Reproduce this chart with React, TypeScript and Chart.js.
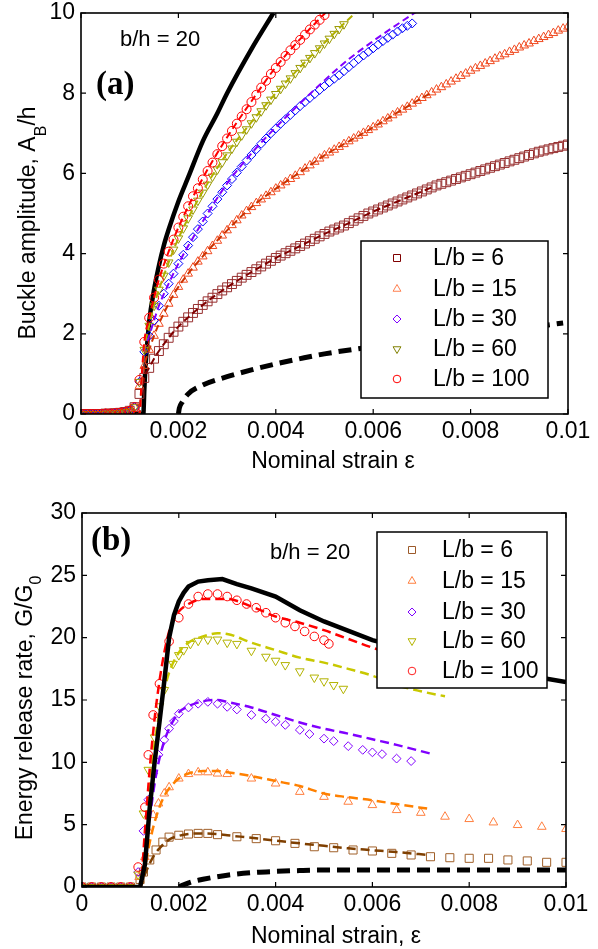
import React, { useEffect, useRef } from 'react';
import { Chart, registerables } from 'chart.js';
Chart.register(...registerables);

const FONT = '"Liberation Sans", Arial, Helvetica, sans-serif';
const SERIF = '"Liberation Serif", "Times New Roman", serif';

// ---------- ticks ----------
const xTickValues = [0, 0.002, 0.004, 0.006, 0.008, 0.01];
const xTickLabels = ['0', '0.002', '0.004', '0.006', '0.008', '0.01'];
const yTickValuesA = [0, 2, 4, 6, 8, 10];
const yTickLabelsA = ['0', '2', '4', '6', '8', '10'];
const yTickValuesB = [0, 5, 10, 15, 20, 25, 30];
const yTickLabelsB = ['0', '5', '10', '15', '20', '25', '30'];
const legendLabels = ['L/b = 6', 'L/b = 15', 'L/b = 30', 'L/b = 60', 'L/b = 100'];

// ---------- panel (a): buckle amplitude ----------
const strainA = [
  0, 0.0001, 0.0002, 0.0003, 0.0004, 0.0005, 0.0006, 0.0007, 0.0008, 0.0009,
  0.001, 0.0011, 0.0012, 0.0013, 0.0014, 0.0015, 0.0016, 0.0017, 0.0018, 0.0019,
  0.002, 0.0021, 0.0022, 0.0023, 0.0024, 0.0025, 0.0026, 0.0027, 0.0028, 0.0029,
  0.003, 0.0031, 0.0032, 0.0033, 0.0034, 0.0035, 0.0036, 0.0037, 0.0038, 0.0039,
  0.004, 0.0041, 0.0042, 0.0043, 0.0044, 0.0045, 0.0046, 0.0047, 0.0048, 0.0049,
  0.005, 0.0051, 0.0052, 0.0053, 0.0054, 0.0055, 0.0056, 0.0057, 0.0058, 0.0059,
  0.006, 0.0061, 0.0062, 0.0063, 0.0064, 0.0065, 0.0066, 0.0067, 0.0068, 0.0069,
  0.007, 0.0071, 0.0072, 0.0073, 0.0074, 0.0075, 0.0076, 0.0077, 0.0078, 0.0079,
  0.008, 0.0081, 0.0082, 0.0083, 0.0084, 0.0085, 0.0086, 0.0087, 0.0088, 0.0089,
  0.009, 0.0091, 0.0092, 0.0093, 0.0094, 0.0095, 0.0096, 0.0097, 0.0098, 0.0099, 0.01,
];
const ampLb6 = [
  0, 0, 0, 0, 0, 0.01, 0.01, 0.02, 0.03, 0.05, 0.08, 0.17,
  0.5, 0.9, 1.15, 1.38, 1.57, 1.74, 1.9, 2.05, 2.18, 2.3, 2.41, 2.52, 2.62, 2.72, 2.81, 2.9,
  2.99, 3.08, 3.16, 3.24, 3.32, 3.4, 3.47, 3.54, 3.61, 3.68, 3.75, 3.82, 3.89, 3.95, 4.01,
  4.07, 4.13, 4.19, 4.25, 4.31, 4.37, 4.43, 4.49, 4.55, 4.6, 4.65, 4.7, 4.76, 4.82, 4.88,
  4.94, 5.0, 5.05, 5.1, 5.15, 5.2, 5.25, 5.3, 5.35, 5.4, 5.45, 5.5, 5.55, 5.6, 5.65, 5.7,
  5.74, 5.78, 5.82, 5.86, 5.9, 5.94, 5.98, 6.02, 6.06, 6.1, 6.14, 6.18, 6.22, 6.26, 6.3,
  6.34, 6.38, 6.42, 6.46, 6.5, 6.54, 6.57, 6.6, 6.63, 6.66, 6.69, 6.72,
];
const ampLb15 = [
  0, 0, 0, 0, 0, 0.01, 0.01, 0.02, 0.03, 0.05, 0.08, 0.17,
  0.7, 1.2, 1.6, 1.95, 2.25, 2.5, 2.75, 2.97, 3.17, 3.35, 3.5, 3.65, 3.8, 3.93, 4.06, 4.19,
  4.32, 4.45, 4.58, 4.71, 4.83, 4.95, 5.06, 5.16, 5.26, 5.35, 5.44, 5.53, 5.62, 5.7, 5.78,
  5.86, 5.94, 6.03, 6.12, 6.2, 6.29, 6.37, 6.45, 6.52, 6.59, 6.66, 6.73, 6.8, 6.87, 6.94,
  7.01, 7.08, 7.15, 7.22, 7.3, 7.37, 7.45, 7.52, 7.59, 7.66, 7.74, 7.81, 7.88, 7.95, 8.02,
  8.09, 8.15, 8.22, 8.29, 8.36, 8.43, 8.49, 8.56, 8.62, 8.68, 8.74, 8.8, 8.86, 8.92, 8.97,
  9.03, 9.08, 9.14, 9.19, 9.24, 9.3, 9.35, 9.4, 9.45, 9.5, 9.56, 9.61, 9.66,
];
const ampLb30 = [
  0, 0, 0, 0, 0, 0.01, 0.01, 0.02, 0.03, 0.05, 0.08, 0.17,
  0.8, 1.55, 1.95, 2.33, 2.7, 3.0, 3.25, 3.5, 3.75, 3.97, 4.2, 4.41, 4.61, 4.8, 5.0, 5.18,
  5.36, 5.53, 5.7, 5.86, 6.02, 6.17, 6.32, 6.46, 6.6, 6.74, 6.87, 7.0, 7.12, 7.24, 7.35,
  7.46, 7.57, 7.68, 7.78, 7.88, 7.98, 8.08, 8.18, 8.27, 8.36, 8.45, 8.55, 8.65, 8.75, 8.85,
  8.94, 9.03, 9.12, 9.21, 9.3, 9.38, 9.46, 9.54, 9.62, 9.68, 9.74,
];
const ampLb60 = [
  0, 0, 0, 0, 0, 0.01, 0.01, 0.02, 0.03, 0.05, 0.08, 0.17,
  0.8, 1.6, 2.2, 2.7, 3.1, 3.45, 3.78, 4.1, 4.38, 4.63, 4.88, 5.1, 5.32, 5.52, 5.72, 5.92,
  6.1, 6.28, 6.45, 6.62, 6.79, 6.95, 7.1, 7.25, 7.4, 7.55, 7.7, 7.84, 7.98, 8.11, 8.24,
  8.37, 8.5, 8.63, 8.76, 8.88, 9.0, 9.12, 9.24, 9.36, 9.48, 9.6, 9.72,
];
const ampLb100 = [
  0, 0, 0, 0, 0, 0.01, 0.01, 0.02, 0.03, 0.05, 0.08, 0.17,
  0.85, 1.8, 2.4, 2.9, 3.35, 3.75, 4.05, 4.35, 4.65, 4.92, 5.18, 5.43, 5.63, 5.85, 6.06,
  6.27, 6.48, 6.68, 6.87, 7.06, 7.24, 7.42, 7.6, 7.78, 7.96, 8.14, 8.31, 8.48, 8.63, 8.78,
  8.93, 9.07, 9.2, 9.33, 9.46, 9.59, 9.71, 9.83, 9.95,
];
// model (dashed) curves, panel (a)
const modelStrainA = [0, 0.0012, 0.00125, 0.0013, 0.0014, 0.0015, 0.0016, 0.0018, 0.002, 0.0025,
  0.003, 0.0035, 0.004, 0.0045, 0.005, 0.0055, 0.006, 0.0065, 0.007, 0.0072];
const modelA6 = [0, 0, 0.55, 0.9, 1.15, 1.38, 1.57, 1.9, 2.18, 2.72, 3.16, 3.54, 3.89, 4.19, 4.49, 4.76, 5.05, 5.3, 5.55, 5.65];
const modelA15 = [0, 0, 0.75, 1.2, 1.6, 1.95, 2.25, 2.75, 3.17, 3.93, 4.58, 5.16, 5.62, 6.03, 6.45, 6.8, 7.15, 7.52, 7.88, 8.02];
const modelA30 = [0, 0, 0.85, 1.55, 1.95, 2.33, 2.7, 3.25, 3.75, 4.8, 5.75, 6.5, 7.15, 7.75, 8.32, 8.85, 9.3, 9.72, 10.12];
const modelA60 = [0, 0, 0.9, 1.6, 2.2, 2.7, 3.1, 3.78, 4.38, 5.55, 6.5, 7.28, 8.0, 8.65, 9.26, 9.85, 10.4];
const modelA100 = [0, 0, 1.0, 1.8, 2.4, 2.9, 3.35, 4.05, 4.65, 5.88, 6.9, 7.8, 8.65, 9.35, 9.98, 10.6];
// theory curves (black)
const theoryStrainA = [0, 0.00128, 0.0013, 0.00132, 0.00135, 0.0014, 0.0015, 0.0016, 0.0017, 0.0018,
  0.002, 0.0022, 0.0025, 0.0028, 0.003, 0.0035, 0.00395];
const theoryAmpA = [0, 0, 0.6, 1.1, 1.6, 2.3, 3.1, 3.7, 4.2, 4.6, 5.3, 5.9, 6.8, 7.5, 8.0, 9.1, 10];
const lowerStrainA = [0.002, 0.00202, 0.00208, 0.0022, 0.0025, 0.003, 0.0035, 0.004, 0.0045, 0.005,
  0.006, 0.007, 0.008, 0.009, 0.0099];
const lowerAmpA = [0, 0.15, 0.3, 0.5, 0.72, 0.93, 1.1, 1.25, 1.38, 1.5, 1.68, 1.85, 2.0, 2.13, 2.27];

// ---------- panel (b): energy release rate ----------
const strainB6 = [0, 0.0002, 0.0004, 0.0006, 0.0008, 0.001, 0.0012, 0.00127, 0.0014, 0.00153, 0.00167,
  0.0018, 0.002, 0.0022, 0.0024, 0.0026, 0.0028, 0.0032, 0.0036, 0.004, 0.0044, 0.0048, 0.0052,
  0.0056, 0.006, 0.0064, 0.0068, 0.0072, 0.0076, 0.008, 0.0084, 0.0088, 0.0092, 0.0096, 0.01];
const gB6 = [0, 0, 0, 0, 0, 0, 0.6, 1.2, 2.17, 2.97, 3.6, 4.0, 4.15, 4.25, 4.3, 4.3, 4.2, 4.03, 3.88,
  3.71, 3.5, 3.23, 3.15, 2.97, 2.89, 2.7, 2.57, 2.43, 2.35, 2.3, 2.3, 2.17, 2.09, 1.98, 1.98];
const strainB15 = [0, 0.0002, 0.0004, 0.0006, 0.0008, 0.001, 0.00118, 0.0013, 0.00137, 0.00147, 0.00158,
  0.0017, 0.0018, 0.002, 0.0022, 0.0024, 0.0026, 0.0028, 0.003, 0.0035, 0.004, 0.0045, 0.005,
  0.0055, 0.006, 0.0065, 0.007, 0.0075, 0.008, 0.0085, 0.009, 0.0095, 0.01];
const gB15 = [0, 0, 0, 0, 0, 0, 0.8, 2.4, 4.5, 5.77, 6.7, 7.5, 8.0, 8.7, 9.06, 9.2, 9.2, 9.1, 9.06,
  8.7, 8.3, 7.63, 7.23, 6.84, 6.57, 6.17, 5.95, 5.64, 5.45, 5.18, 4.97, 4.83, 4.65];
const strainB30 = [0, 0.0002, 0.0004, 0.0006, 0.0008, 0.001, 0.00116, 0.00127, 0.00137, 0.00147, 0.00158,
  0.0017, 0.0018, 0.0019, 0.002, 0.0022, 0.0024, 0.0026, 0.0028, 0.003, 0.0032, 0.0035, 0.0038,
  0.004, 0.0042, 0.0045, 0.0047, 0.005, 0.0052, 0.0055, 0.0058, 0.006, 0.0062, 0.0065, 0.0068];
const gB30 = [0, 0, 0, 0, 0, 0, 1.2, 4.5, 7.0, 9.1, 10.6, 11.8, 12.7, 13.3, 13.9, 14.4, 14.7, 14.85,
  14.7, 14.45, 14.24, 13.8, 13.5, 13.26, 13.0, 12.6, 12.27, 11.9, 11.7, 11.3, 11.0, 10.8, 10.66, 10.3, 10.1];
const strainB60 = [0, 0.0002, 0.0004, 0.0006, 0.0008, 0.001, 0.00116, 0.00127, 0.00137, 0.0015, 0.0016,
  0.0017, 0.00188, 0.002, 0.0021, 0.00224, 0.0024, 0.0026, 0.0028, 0.003, 0.0032, 0.0035, 0.0038,
  0.004, 0.0042, 0.0045, 0.0048, 0.005, 0.0052, 0.0054];
const gB60 = [0, 0, 0, 0, 0, 0, 1.0, 5.9, 9.4, 12.0, 14.5, 15.8, 17.9, 18.6, 19.0, 19.5, 19.75, 19.85,
  19.85, 19.6, 19.5, 18.95, 18.47, 18.15, 17.8, 17.3, 16.8, 16.5, 16.2, 15.9];
const strainB100 = [0, 0.0002, 0.0004, 0.0006, 0.0008, 0.001, 0.00116, 0.0013, 0.00137, 0.00147, 0.0016,
  0.0018, 0.002, 0.0022, 0.0024, 0.0026, 0.0028, 0.003, 0.0032, 0.0034, 0.0036, 0.0038, 0.004,
  0.0042, 0.0044, 0.0046, 0.0048, 0.005, 0.0051];
const gB100 = [0, 0, 0, 0, 0, 0, 1.6, 6.4, 10.6, 13.8, 16.3, 19.7, 21.6, 22.7, 23.3, 23.5, 23.5, 23.3,
  23.0, 22.7, 22.4, 22.0, 21.6, 21.2, 20.9, 20.5, 20.1, 19.8, 19.5];
// model (dashed) curves, panel (b)
const modelStrainB6 = [0, 0.0012, 0.0013, 0.0014, 0.0015, 0.0016, 0.0018, 0.002, 0.0022, 0.0025, 0.0028,
  0.003, 0.0035, 0.004, 0.0045, 0.005, 0.0055, 0.006, 0.0065, 0.0072];
const modelB6 = [0, 0, 1.0, 1.9, 2.6, 3.1, 3.8, 4.1, 4.25, 4.3, 4.25, 4.15, 3.95, 3.72, 3.5, 3.3, 3.1, 2.95, 2.8, 2.55];
const modelStrainB = [0, 0.0012, 0.0013, 0.0014, 0.0015, 0.0016, 0.0017, 0.0018, 0.002, 0.0022, 0.0025,
  0.0028, 0.003, 0.0035, 0.004, 0.0045, 0.005, 0.0055, 0.006, 0.0065, 0.0072];
const modelB15 = [0, 0, 1.5, 3.6, 5.2, 6.4, 7.3, 7.9, 8.7, 9.1, 9.3, 9.3, 9.2, 8.9, 8.5, 8.1, 7.5, 7.2, 6.95, 6.65, 6.25];
const modelB30 = [0, 0, 2.5, 5.5, 8.3, 10.3, 11.7, 12.7, 14.0, 14.5, 14.9, 15.0, 14.85, 14.4, 13.8, 13.2, 12.7, 12.3, 11.85, 11.4, 10.7];
const modelStrainB60 = [0, 0.0012, 0.0013, 0.0014, 0.0015, 0.0016, 0.0017, 0.0018, 0.002, 0.0022, 0.0025,
  0.0028, 0.003, 0.0035, 0.004, 0.0045, 0.005, 0.0055, 0.006, 0.0065, 0.007, 0.0075];
const modelB60 = [0, 0, 3.5, 8.0, 11.5, 14.0, 15.8, 17.2, 18.8, 19.6, 20.1, 20.35, 20.3, 19.6, 19.0, 18.4, 18.0, 17.5, 16.95, 16.2, 15.7, 15.3];
const modelStrainB100 = [0, 0.0012, 0.0013, 0.0014, 0.0015, 0.0016, 0.0017, 0.0018, 0.0019, 0.002, 0.0022,
  0.0025, 0.003, 0.0035, 0.004, 0.0045, 0.005, 0.0055, 0.006, 0.0065];
const modelB100 = [0, 0, 4.5, 9.5, 13.5, 16.5, 18.8, 20.5, 21.5, 22.1, 22.7, 23.1, 23.1, 22.5, 21.7, 21.2, 20.6, 19.9, 19.2, 18.6];
const theoryStrainB = [0, 0.0012, 0.0013, 0.0014, 0.0015, 0.0016, 0.0017, 0.0018, 0.0019, 0.002, 0.0021,
  0.0022, 0.0024, 0.0026, 0.0029, 0.0032, 0.0035, 0.004, 0.0045, 0.005, 0.006, 0.007, 0.008, 0.009, 0.01];
const theoryGB = [0, 0, 1.8, 6.4, 10.0, 13.2, 16.5, 20.0, 21.8, 22.9, 23.6, 24.1, 24.5, 24.6, 24.7, 24.3,
  23.95, 23.3, 22.2, 21.3, 19.8, 18.8, 17.9, 17.1, 16.45];
const lowerStrainB = [0.002, 0.0021, 0.0023, 0.0025, 0.003, 0.0035, 0.004, 0.0045, 0.005, 0.01];
const lowerGB = [0, 0.18, 0.45, 0.62, 0.95, 1.15, 1.25, 1.32, 1.36, 1.36];

// ---------- helpers ----------
const pts = (xs: number[], ys: number[]) => ys.map((y, i) => ({ x: xs[i], y }));

function markerDs(xs: number[], ys: number[], color: string, style: string, r: number, rot: number, order: number) {
  return {
    data: pts(xs, ys), showLine: false, pointStyle: style, pointRadius: r, pointRotation: rot,
    pointBorderColor: color, pointBackgroundColor: 'rgba(0,0,0,0)', pointBorderWidth: 1,
    borderColor: color, backgroundColor: 'rgba(0,0,0,0)', order,
  };
}
function lineDs(xs: number[], ys: number[], color: string, width: number, dash: number[], order: number, smooth = true) {
  return {
    data: pts(xs, ys), showLine: true, pointRadius: 0, borderColor: color, borderWidth: width,
    borderDash: dash, cubicInterpolationMode: smooth ? 'monotone' : 'default', tension: 0,
    fill: false, clip: 0, order, borderCapStyle: 'butt',
  };
}

type Mk = 'square' | 'tri' | 'dtri' | 'diamond' | 'circle';
function drawMarker(ctx: CanvasRenderingContext2D, kind: Mk, x: number, y: number, r: number, color: string) {
  ctx.beginPath();
  ctx.strokeStyle = color;
  ctx.lineWidth = 1;
  if (kind === 'square') ctx.rect(x - r, y - r, 2 * r, 2 * r);
  else if (kind === 'tri') { ctx.moveTo(x, y - r); ctx.lineTo(x + r * 0.87, y + r * 0.5); ctx.lineTo(x - r * 0.87, y + r * 0.5); ctx.closePath(); }
  else if (kind === 'dtri') { ctx.moveTo(x, y + r); ctx.lineTo(x + r * 0.87, y - r * 0.5); ctx.lineTo(x - r * 0.87, y - r * 0.5); ctx.closePath(); }
  else if (kind === 'diamond') { ctx.moveTo(x, y - r); ctx.lineTo(x + r, y); ctx.lineTo(x, y + r); ctx.lineTo(x - r, y); ctx.closePath(); }
  else ctx.arc(x, y, r, 0, Math.PI * 2);
  ctx.stroke();
}

function drawRotTitle(ctx: CanvasRenderingContext2D, baseX: number, cy: number, main1: string, sub: string, main2: string, subDrop: number) {
  const big = `23px ${FONT}`;
  const small = `16px ${FONT}`;
  ctx.font = big; const w1 = ctx.measureText(main1).width; const w3 = ctx.measureText(main2).width;
  ctx.font = small; const w2 = ctx.measureText(sub).width;
  const W = w1 + w2 + w3;
  ctx.save();
  ctx.translate(baseX, cy);
  ctx.rotate(-Math.PI / 2);
  ctx.fillStyle = '#000';
  ctx.textAlign = 'left';
  ctx.textBaseline = 'alphabetic';
  ctx.font = big; ctx.fillText(main1, -W / 2, 0);
  ctx.font = small; ctx.fillText(sub, -W / 2 + w1, subDrop);
  ctx.font = big; ctx.fillText(main2, -W / 2 + w1 + w2, 0);
  ctx.restore();
}

interface Decor {
  xTicks: number[]; yTicks: number[];
  legend: { box: [number, number, number, number]; mx: number; tx: number; rows: number[]; kinds: Mk[]; colors: string[]; sizes: number[] };
  tag: { text: string; x: number; y: number };
  bh: { x: number; y: number };
  xTitle: { text: string; cx: number; y: number };
  yTitle: { baseX: number; cy: number; m1: string; sub: string; m2: string; drop: number };
}

function decorPlugin(d: Decor) {
  return {
    id: 'decor',
    afterDraw(chart: any) {
      const ctx: CanvasRenderingContext2D = chart.ctx;
      const { left, right, top, bottom } = chart.chartArea;
      const xs = chart.scales.x, ys = chart.scales.y;
      ctx.save();
      // legend box
      const [bx0, by0, bx1, by1] = d.legend.box;
      ctx.fillStyle = '#fff';
      ctx.fillRect(bx0, by0, bx1 - bx0, by1 - by0);
      ctx.strokeStyle = '#000'; ctx.lineWidth = 1.5;
      ctx.strokeRect(bx0, by0, bx1 - bx0, by1 - by0);
      ctx.font = `23px ${FONT}`; ctx.fillStyle = '#000'; ctx.textAlign = 'left'; ctx.textBaseline = 'middle';
      d.legend.rows.forEach((ry, i) => {
        drawMarker(ctx, d.legend.kinds[i], d.legend.mx, ry, d.legend.sizes[i], d.legend.colors[i]);
        ctx.fillStyle = '#000';
        ctx.fillText(legendLabels[i], d.legend.tx, ry + 1);
      });
      // frame
      ctx.strokeStyle = '#000'; ctx.lineWidth = 1.6;
      ctx.strokeRect(left, top, right - left, bottom - top);
      // inward ticks
      ctx.lineWidth = 1.2;
      ctx.beginPath();
      d.xTicks.forEach((v) => {
        const px = xs.getPixelForValue(v);
        ctx.moveTo(px, bottom); ctx.lineTo(px, bottom - 5);
        ctx.moveTo(px, top); ctx.lineTo(px, top + 5);
      });
      d.yTicks.forEach((v) => {
        const py = ys.getPixelForValue(v);
        ctx.moveTo(left, py); ctx.lineTo(left + 5, py);
        ctx.moveTo(right, py); ctx.lineTo(right - 5, py);
      });
      ctx.stroke();
      // panel tag
      ctx.fillStyle = '#000';
      ctx.font = `bold 33px ${SERIF}`; ctx.textAlign = 'left'; ctx.textBaseline = 'middle';
      ctx.fillText(d.tag.text, d.tag.x, d.tag.y);
      ctx.font = `22px ${FONT}`;
      ctx.fillText('b/h = 20', d.bh.x, d.bh.y);
      // x title
      ctx.font = `23px ${FONT}`; ctx.textAlign = 'center'; ctx.textBaseline = 'alphabetic';
      ctx.fillText(d.xTitle.text, d.xTitle.cx, d.xTitle.y);
      // y title
      drawRotTitle(ctx, d.yTitle.baseX, d.yTitle.cy, d.yTitle.m1, d.yTitle.sub, d.yTitle.m2, d.yTitle.drop);
      ctx.restore();
    },
  };
}

function makeConfig(datasets: any[], yMax: number, yTickVals: number[], yTickLbls: string[], yWidth: number, xHeight: number, padding: any, decor: Decor) {
  return {
    type: 'line',
    data: { datasets },
    options: {
      animation: false, responsive: false, devicePixelRatio: 1, events: [],
      layout: { padding, autoPadding: false },
      plugins: { legend: { display: false }, tooltip: { enabled: false }, title: { display: false } },
      scales: {
        x: {
          type: 'linear', min: 0, max: 0.01,
          afterBuildTicks: (s: any) => { s.ticks = xTickValues.map((v) => ({ value: v })); },
          afterFit: (s: any) => { s.height = xHeight; s.paddingLeft = 0; s.paddingRight = 0; },
          ticks: { callback: (_v: any, i: number) => xTickLabels[i], font: { family: FONT, size: 23 }, color: '#000', padding: 4, maxRotation: 0, autoSkip: false },
          grid: { display: false, drawTicks: false },
          border: { display: false },
        },
        y: {
          type: 'linear', min: 0, max: yMax,
          afterBuildTicks: (s: any) => { s.ticks = yTickVals.map((v) => ({ value: v })); },
          afterFit: (s: any) => { s.width = yWidth; s.paddingTop = 0; s.paddingBottom = 0; },
          ticks: { callback: (_v: any, i: number) => yTickLbls[i], font: { family: FONT, size: 23 }, color: '#000', padding: 6, autoSkip: false },
          grid: { display: false, drawTicks: false },
          border: { display: false },
        },
      },
    },
    plugins: [decorPlugin(decor)],
  } as any;
}

function configA() {
  const datasets = [
    lineDs(modelStrainA, modelA100, '#ff0000', 2, [7, 4], 1),
    lineDs(modelStrainA, modelA60, '#b0b000', 2, [7, 4], 2),
    lineDs(modelStrainA, modelA30, '#8000ff', 2, [7, 4], 3),
    lineDs(modelStrainA, modelA15, '#cc3300', 2, [7, 4], 4),
    lineDs(modelStrainA, modelA6, '#800000', 2, [7, 4], 5),
    markerDs(strainA, ampLb100, '#ff0000', 'circle', 4.5, 0, 6),
    markerDs(strainA, ampLb60, '#999900', 'triangle', 5, 180, 7),
    markerDs(strainA, ampLb30, '#0000ff', 'rectRot', 4.5, 0, 8),
    markerDs(strainA, ampLb15, '#f04a20', 'triangle', 5, 0, 9),
    markerDs(strainA, ampLb6, '#962d2d', 'rect', 6.3, 0, 10),
    lineDs(theoryStrainA, theoryAmpA, '#000000', 4.5, [], 11),
    lineDs(lowerStrainA, lowerAmpA, '#000000', 5, [13, 7], 12),
  ];
  const decor: Decor = {
    xTicks: xTickValues, yTicks: yTickValuesA,
    legend: {
      box: [361, 241, 548, 398], mx: 397, tx: 433, rows: [258, 289, 319, 349, 379],
      kinds: ['square', 'tri', 'diamond', 'dtri', 'circle'],
      colors: ['#800000', '#ff8050', '#8000ff', '#808000', '#ff0000'],
      sizes: [3.5, 4.5, 4, 4.5, 3.8],
    },
    tag: { text: '(a)', x: 96, y: 85 },
    bh: { x: 120, y: 40 },
    xTitle: { text: 'Nominal strain ε', cx: 333, y: 468 },
    yTitle: { baseX: 35, cy: 223, m1: 'Buckle amplitude, A', sub: 'B', m2: '/h', drop: 11 },
  };
  return makeConfig(datasets, 10, yTickValuesA, yTickLabelsA, 81, 480 - 414, { left: 0, right: 30, top: 13, bottom: 0 }, decor);
}

function configB() {
  const datasets = [
    lineDs(theoryStrainB, theoryGB, '#000000', 4.5, [], 0, false),
    lineDs(modelStrainB100, modelB100, '#ff0000', 2.5, [9, 5], 1),
    lineDs(modelStrainB60, modelB60, '#c8c800', 2.5, [9, 5], 2),
    lineDs(modelStrainB, modelB30, '#8000ff', 2.5, [9, 5], 3),
    lineDs(modelStrainB, modelB15, '#ff8000', 2.5, [9, 5], 4),
    lineDs(modelStrainB6, modelB6, '#7f3f00', 2.5, [9, 5], 5),
    markerDs(strainB100, gB100, '#ff0000', 'circle', 4.3, 0, 6),
    markerDs(strainB60, gB60, '#b3b300', 'triangle', 5, 180, 7),
    markerDs(strainB30, gB30, '#8000ff', 'rectRot', 4.4, 0, 8),
    markerDs(strainB15, gB15, '#ff7f3f', 'triangle', 5, 0, 9),
    markerDs(strainB6, gB6, '#a0602a', 'rect', 5.7, 0, 10),
    lineDs(lowerStrainB, lowerGB, '#000000', 5, [13, 7], 11),
  ];
  const decor: Decor = {
    xTicks: xTickValues, yTicks: yTickValuesB,
    legend: {
      box: [377, 52, 547, 208], mx: 412, tx: 442, rows: [70, 101, 132, 161, 191],
      kinds: ['square', 'tri', 'diamond', 'dtri', 'circle'],
      colors: ['#9c5a2a', '#ff8040', '#8000ff', '#b5b500', '#ff2020'],
      sizes: [3.5, 4.5, 4, 4.5, 3.8],
    },
    tag: { text: '(b)', x: 91, y: 61 },
    bh: { x: 270, y: 73 },
    xTitle: { text: 'Nominal strain, ε', cx: 336, y: 463 },
    yTitle: { baseX: 32, cy: 228, m1: 'Energy release rate, G/G', sub: '0', m2: '', drop: 9 },
  };
  return makeConfig(datasets, 30, yTickValuesB, yTickLabelsB, 82, 469 - 407, { left: 0, right: 32, top: 33, bottom: 0 }, decor);
}

export default function App() {
  const refA = useRef<HTMLCanvasElement>(null);
  const refB = useRef<HTMLCanvasElement>(null);
  useEffect(() => {
    const a = new Chart(refA.current as HTMLCanvasElement, configA());
    const b = new Chart(refB.current as HTMLCanvasElement, configB());
    return () => { a.destroy(); b.destroy(); };
  }, []);
  return (
    <div style={{ position: 'absolute', left: 0, top: 0, width: 598, height: 949, background: '#fff' }}>
      <canvas ref={refA} width={598} height={480} style={{ position: 'absolute', left: 0, top: 0, width: 598, height: 480 }} />
      <canvas ref={refB} width={598} height={469} style={{ position: 'absolute', left: 0, top: 480, width: 598, height: 469 }} />
    </div>
  );
}
